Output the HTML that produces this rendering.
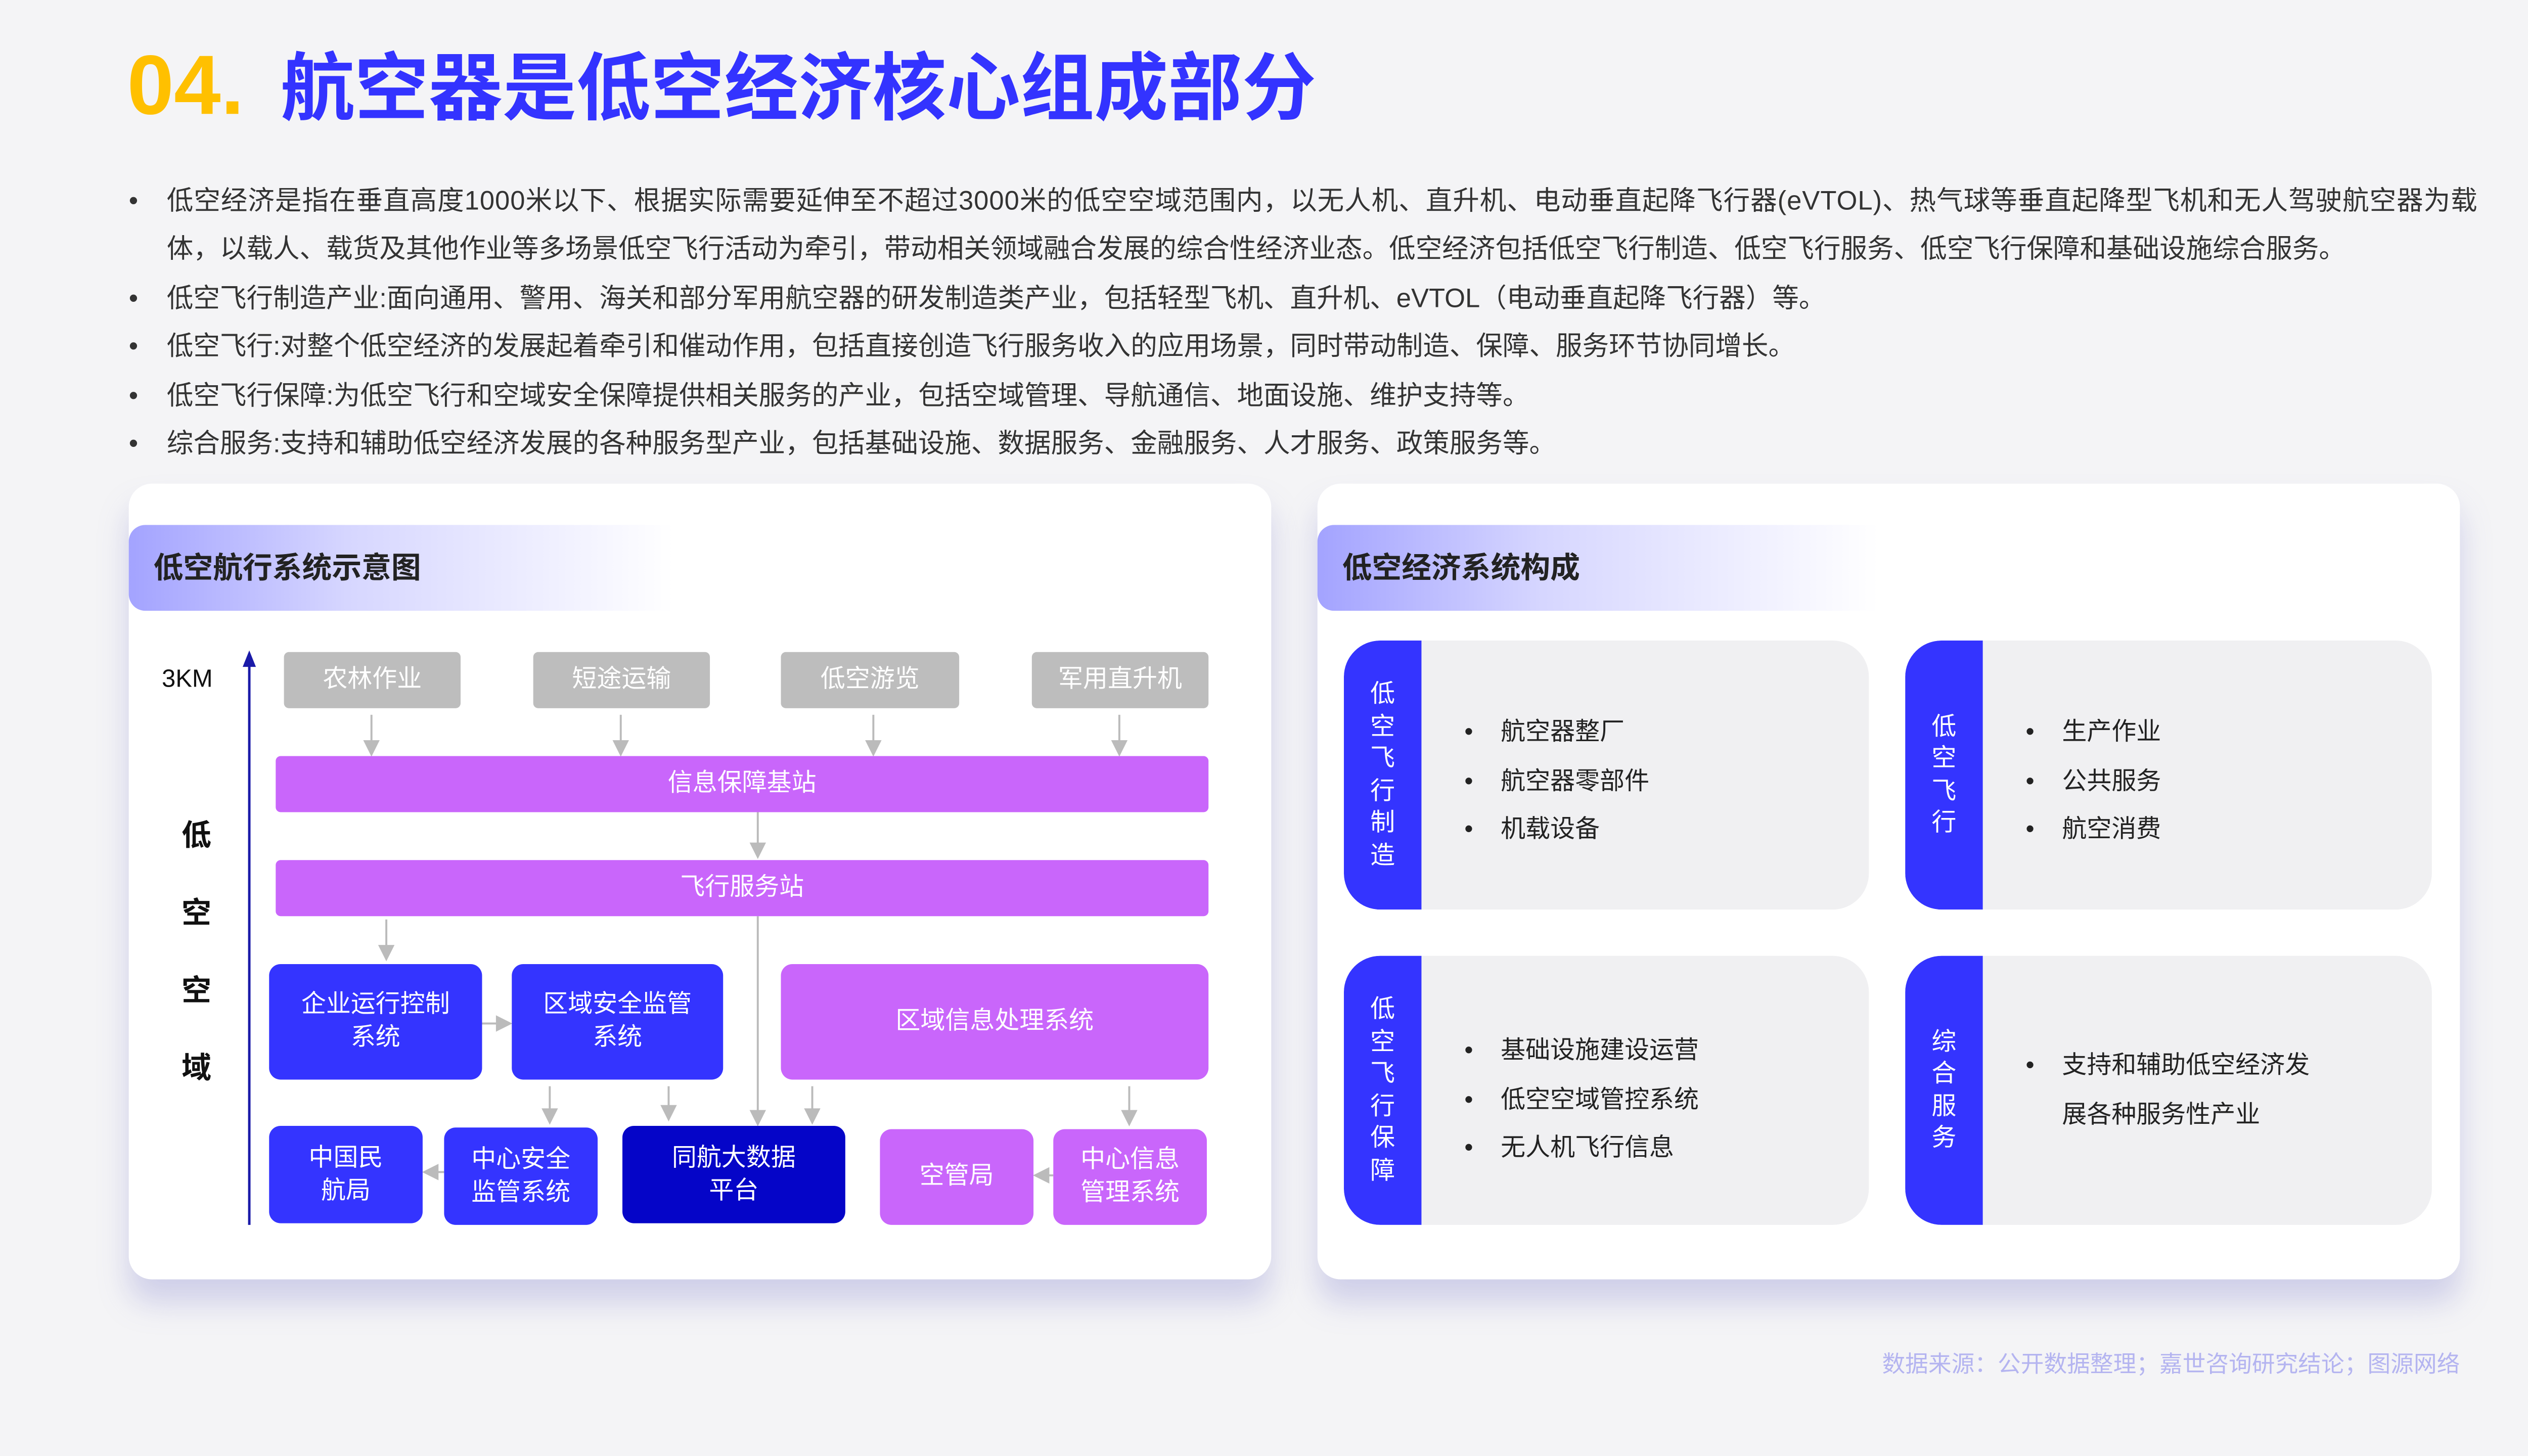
<!DOCTYPE html>
<html><head><meta charset="utf-8">
<style>
*{margin:0;padding:0;box-sizing:border-box}
html,body{width:5120px;height:2880px;overflow:hidden;background:#f4f4f6}
#s{position:absolute;left:0;top:0;width:1568px;height:882px;transform:scale(3.26531);transform-origin:0 0;font-family:"Liberation Sans","Noto Sans CJK SC",sans-serif;color:#333}
.a{position:absolute}
.c{position:absolute;display:flex;align-items:center;justify-content:center;text-align:center;color:#fff;font-size:15px;line-height:20px}
.g{background:#bdbdbd;border-radius:3px}
.p{background:#c966fb;border-radius:3px}
.b{background:#3434ff;border-radius:7px}
.d{background:#0505c8;border-radius:7px}
.bl{font-size:16.1px;white-space:nowrap;color:#333}
.panel{position:absolute;background:#fff;border-radius:14px;box-shadow:0 14px 18px rgba(140,140,210,0.35)}
.hdr{position:absolute;height:52px;border-radius:10px 0 0 10px;background:linear-gradient(90deg,#a3a3ff 0%,#d6d6ff 40%,rgba(255,255,255,0) 100%);font-weight:bold;font-size:18px;color:#222;line-height:52px;padding-left:15px}
.card{position:absolute;background:#f0f0f2;border-radius:22px;overflow:hidden}
.strip{position:absolute;left:0;top:0;bottom:0;width:47px;background:#3434ff;border-radius:22px 0 0 22px;color:#fff;font-size:15px;display:flex;flex-direction:column;align-items:center;justify-content:center;line-height:19.5px}
.items{position:absolute;left:95px;font-size:15px;color:#222;line-height:29.5px}
.items div::before{content:"•";position:absolute;left:-22px}
.items div{position:relative}
</style></head><body><div id="s">
<div class="a" style="left:77px;top:22px;font-size:51px;font-weight:bold;color:#ffc000;line-height:60px;letter-spacing:0px">04.</div>
<div class="a" style="left:170px;top:25px;font-size:44.8px;font-weight:bold;color:#3333ff;line-height:58px;white-space:nowrap">航空器是低空经济核心组成部分</div>

<div class="a bl" style="left:78px;top:110px;line-height:24px">•</div>
<div class="a bl" style="left:101px;top:110px;line-height:24px;letter-spacing:0.3px">低空经济是指在垂直高度1000米以下、根据实际需要延伸至不超过3000米的低空空域范围内，以无人机、直升机、电动垂直起降飞行器(eVTOL)、热气球等垂直起降型飞机和无人驾驶航空器为载</div>
<div class="a bl" style="left:101px;top:139px;line-height:24px">体，以载人、载货及其他作业等多场景低空飞行活动为牵引，带动相关领域融合发展的综合性经济业态。低空经济包括低空飞行制造、低空飞行服务、低空飞行保障和基础设施综合服务。</div>
<div class="a bl" style="left:78px;top:169px;line-height:24px">•</div>
<div class="a bl" style="left:101px;top:169px;line-height:24px">低空飞行制造产业:面向通用、警用、海关和部分军用航空器的研发制造类产业，包括轻型飞机、直升机、eVTOL（电动垂直起降飞行器）等。</div>
<div class="a bl" style="left:78px;top:198px;line-height:24px">•</div>
<div class="a bl" style="left:101px;top:198px;line-height:24px">低空飞行:对整个低空经济的发展起着牵引和催动作用，包括直接创造飞行服务收入的应用场景，同时带动制造、保障、服务环节协同增长。</div>
<div class="a bl" style="left:78px;top:228px;line-height:24px">•</div>
<div class="a bl" style="left:101px;top:228px;line-height:24px">低空飞行保障:为低空飞行和空域安全保障提供相关服务的产业，包括空域管理、导航通信、地面设施、维护支持等。</div>
<div class="a bl" style="left:78px;top:257px;line-height:24px">•</div>
<div class="a bl" style="left:101px;top:257px;line-height:24px">综合服务:支持和辅助低空经济发展的各种服务型产业，包括基础设施、数据服务、金融服务、人才服务、政策服务等。</div>

<!-- left panel -->
<div class="panel" style="left:78px;top:293px;width:692px;height:482px"></div>
<div class="hdr" style="left:78px;top:318px;width:330px">低空航行系统示意图</div>
<svg class="a" style="left:0;top:0" width="1568" height="882">
<line x1="151" y1="742" x2="151" y2="402" stroke="#1a1aa8" stroke-width="1.5"/>
<path d="M147,404 L151,394 L155,404Z" fill="#1a1aa8"/>
<g stroke="#bbb" stroke-width="1.2" fill="#bbb">
<line x1="225" y1="433" x2="225" y2="450"/><path d="M221,449 L229,449 L225,457Z"/>
<line x1="376" y1="433" x2="376" y2="450"/><path d="M372,449 L380,449 L376,457Z"/>
<line x1="529" y1="433" x2="529" y2="450"/><path d="M525,449 L533,449 L529,457Z"/>
<line x1="678" y1="433" x2="678" y2="450"/><path d="M674,449 L682,449 L678,457Z"/>
<line x1="459" y1="492" x2="459" y2="512"/><path d="M455,511 L463,511 L459,519Z"/>
<line x1="234" y1="557" x2="234" y2="574"/><path d="M230,573 L238,573 L234,581Z"/>
<line x1="459" y1="555" x2="459" y2="674"/><path d="M455,673 L463,673 L459,681Z"/>
<line x1="333" y1="658" x2="333" y2="673"/><path d="M329,672 L337,672 L333,680Z"/>
<line x1="405" y1="658" x2="405" y2="671"/><path d="M401,670 L409,670 L405,678Z"/>
<line x1="492" y1="658" x2="492" y2="673"/><path d="M488,672 L496,672 L492,680Z"/>
<line x1="684" y1="658" x2="684" y2="674"/><path d="M680,673 L688,673 L684,681Z"/>
<line x1="292" y1="620" x2="302" y2="620"/><path d="M301,616 L301,624 L309,620Z"/>
<line x1="269" y1="710" x2="264" y2="710"/><path d="M265,706 L265,714 L257,710Z"/>
<line x1="638" y1="712" x2="634" y2="712"/><path d="M635,708 L635,716 L627,712Z"/>
</g>
</svg>
<div class="a" style="left:98px;top:403px;font-size:15px;color:#111">3KM</div>
<div class="a" style="left:110px;top:483px;font-size:18px;font-weight:bold;color:#111;line-height:47px;width:20px">低<br>空<br>空<br>域</div>
<div class="c g" style="left:172px;top:395px;width:107px;height:34px">农林作业</div>
<div class="c g" style="left:323px;top:395px;width:107px;height:34px">短途运输</div>
<div class="c g" style="left:473px;top:395px;width:108px;height:34px">低空游览</div>
<div class="c g" style="left:625px;top:395px;width:107px;height:34px">军用直升机</div>
<div class="c p" style="left:167px;top:458px;width:565px;height:34px">信息保障基站</div>
<div class="c p" style="left:167px;top:521px;width:565px;height:34px">飞行服务站</div>
<div class="c b" style="left:163px;top:584px;width:129px;height:70px">企业运行控制<br>系统</div>
<div class="c b" style="left:310px;top:584px;width:128px;height:70px">区域安全监管<br>系统</div>
<div class="c p" style="left:473px;top:584px;width:259px;height:70px;border-radius:7px">区域信息处理系统</div>
<div class="c b" style="left:163px;top:682px;width:93px;height:59px">中国民<br>航局</div>
<div class="c b" style="left:269px;top:683px;width:93px;height:59px">中心安全<br>监管系统</div>
<div class="c d" style="left:377px;top:682px;width:135px;height:59px">同航大数据<br>平台</div>
<div class="c p" style="left:533px;top:684px;width:93px;height:58px;border-radius:7px">空管局</div>
<div class="c p" style="left:638px;top:684px;width:93px;height:58px;border-radius:7px">中心信息<br>管理系统</div>

<!-- right panel -->
<div class="panel" style="left:798px;top:293px;width:692px;height:482px"></div>
<div class="hdr" style="left:798px;top:318px;width:340px">低空经济系统构成</div>
<div class="card" style="left:814px;top:388px;width:318px;height:163px"><div class="strip">低<br>空<br>飞<br>行<br>制<br>造</div>
<div class="items" style="top:41px"><div>航空器整厂</div><div>航空器零部件</div><div>机载设备</div></div></div>
<div class="card" style="left:1154px;top:388px;width:319px;height:163px"><div class="strip">低<br>空<br>飞<br>行</div>
<div class="items" style="top:41px"><div>生产作业</div><div>公共服务</div><div>航空消费</div></div></div>
<div class="card" style="left:814px;top:579px;width:318px;height:163px"><div class="strip">低<br>空<br>飞<br>行<br>保<br>障</div>
<div class="items" style="top:43px"><div>基础设施建设运营</div><div>低空空域管控系统</div><div>无人机飞行信息</div></div></div>
<div class="card" style="left:1154px;top:579px;width:319px;height:163px"><div class="strip">综<br>合<br>服<br>务</div>
<div class="items" style="top:52px"><div>支持和辅助低空经济发<br>展各种服务性产业</div></div></div>

<div class="a" style="right:78px;top:816px;font-size:14px;color:#b4b4f0;white-space:nowrap">数据来源：公开数据整理；嘉世咨询研究结论；图源网络</div>
</div></body></html>
